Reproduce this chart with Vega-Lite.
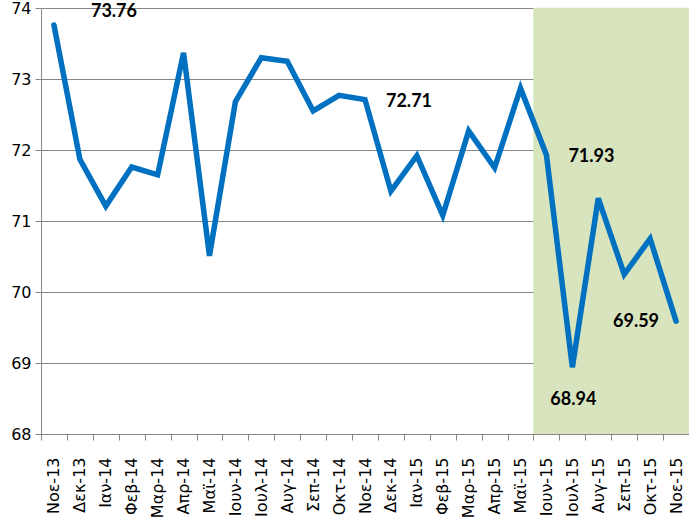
{
  "$schema": "https://vega.github.io/schema/vega-lite/v6.json",
  "width": 648,
  "height": 426,
  "autosize": {"type": "none"},
  "padding": {"left": 41, "top": 8, "right": 0, "bottom": 88},
  "background": "white",
  "config": {
    "view": {"stroke": null},
    "axis": {
      "labelFont": "DejaVu Sans",
      "labelColor": "#000000",
      "domainColor": "#868686",
      "tickColor": "#868686",
      "gridColor": "#868686",
      "gridWidth": 1,
      "domainWidth": 1,
      "tickWidth": 1,
      "title": null
    }
  },
  "data": {
    "values": [
      {"month": "Νοε-13", "value": 73.76},
      {"month": "Δεκ-13", "value": 71.87},
      {"month": "Ιαν-14", "value": 71.21},
      {"month": "Φεβ-14", "value": 71.76},
      {"month": "Μαρ-14", "value": 71.65},
      {"month": "Απρ-14", "value": 73.37},
      {"month": "Μαϊ-14", "value": 70.51},
      {"month": "Ιουν-14", "value": 72.68},
      {"month": "Ιουλ-14", "value": 73.3},
      {"month": "Αυγ-14", "value": 73.25},
      {"month": "Σεπ-14", "value": 72.55},
      {"month": "Οκτ-14", "value": 72.77},
      {"month": "Νοε-14", "value": 72.71},
      {"month": "Δεκ-14", "value": 71.42},
      {"month": "Ιαν-15", "value": 71.92},
      {"month": "Φεβ-15", "value": 71.08},
      {"month": "Μαρ-15", "value": 72.27},
      {"month": "Απρ-15", "value": 71.75},
      {"month": "Μαϊ-15", "value": 72.87},
      {"month": "Ιουν-15", "value": 71.93},
      {"month": "Ιουλ-15", "value": 68.94},
      {"month": "Αυγ-15", "value": 71.32},
      {"month": "Σεπ-15", "value": 70.25},
      {"month": "Οκτ-15", "value": 70.75},
      {"month": "Νοε-15", "value": 69.59}
    ]
  },
  "encoding": {
    "x": {
      "field": "month",
      "type": "nominal",
      "sort": ["Νοε-13", "Δεκ-13", "Ιαν-14", "Φεβ-14", "Μαρ-14", "Απρ-14", "Μαϊ-14", "Ιουν-14", "Ιουλ-14", "Αυγ-14", "Σεπ-14", "Οκτ-14", "Νοε-14", "Δεκ-14", "Ιαν-15", "Φεβ-15", "Μαρ-15", "Απρ-15", "Μαϊ-15", "Ιουν-15", "Ιουλ-15", "Αυγ-15", "Σεπ-15", "Οκτ-15", "Νοε-15"],
      "scale": {"type": "band", "paddingInner": 0, "paddingOuter": 0},
      "axis": {
        "labelAngle": -90,
        "labelFontSize": 16,
        "tickBand": "extent",
        "tickSize": 6,
        "labelPadding": 17,
        "grid": false,
        "zindex": 1
      }
    },
    "y": {
      "field": "value",
      "type": "quantitative",
      "scale": {"domain": [68, 74], "nice": false, "zero": false},
      "axis": {
        "values": [68, 69, 70, 71, 72, 73, 74],
        "labelFontSize": 16,
        "tickSize": 6,
        "labelPadding": 4,
        "grid": true
      }
    }
  },
  "layer": [
    {
      "transform": [
        {"filter": {"field": "month", "oneOf": ["Ιουν-15", "Ιουλ-15", "Αυγ-15", "Σεπ-15", "Οκτ-15", "Νοε-15"]}}
      ],
      "mark": {"type": "rect", "color": "#d7e4bd", "stroke": "#d7e4bd", "strokeWidth": 0.5},
      "encoding": {
        "y": {"datum": 74},
        "y2": {"datum": 68}
      }
    },
    {
      "mark": {"type": "line", "color": "#0070c0", "strokeWidth": 5.5, "strokeCap": "round"}
    },
    {
      "transform": [{"filter": "datum.month === 'Νοε-13'"}],
      "mark": {"type": "text", "font": "Lato", "fontWeight": "bold", "fontSize": 18, "dx": 60, "dy": -13, "color": "#000000"},
      "encoding": {"text": {"field": "value", "type": "quantitative", "format": ".2f"}}
    },
    {
      "transform": [{"filter": "datum.month === 'Νοε-14'"}],
      "mark": {"type": "text", "font": "Lato", "fontWeight": "bold", "fontSize": 18, "dx": 44, "dy": 2, "color": "#000000"},
      "encoding": {"text": {"field": "value", "type": "quantitative", "format": ".2f"}}
    },
    {
      "transform": [{"filter": "datum.month === 'Ιουν-15'"}],
      "mark": {"type": "text", "font": "Lato", "fontWeight": "bold", "fontSize": 18, "dx": 45, "dy": 2, "color": "#000000"},
      "encoding": {"text": {"field": "value", "type": "quantitative", "format": ".2f"}}
    },
    {
      "transform": [{"filter": "datum.month === 'Ιουλ-15'"}],
      "mark": {"type": "text", "font": "Lato", "fontWeight": "bold", "fontSize": 18, "dx": 1, "dy": 33, "color": "#000000"},
      "encoding": {"text": {"field": "value", "type": "quantitative", "format": ".2f"}}
    },
    {
      "transform": [{"filter": "datum.month === 'Νοε-15'"}],
      "mark": {"type": "text", "font": "Lato", "fontWeight": "bold", "fontSize": 18, "dx": -40, "dy": 1, "color": "#000000"},
      "encoding": {"text": {"field": "value", "type": "quantitative", "format": ".2f"}}
    }
  ]
}
